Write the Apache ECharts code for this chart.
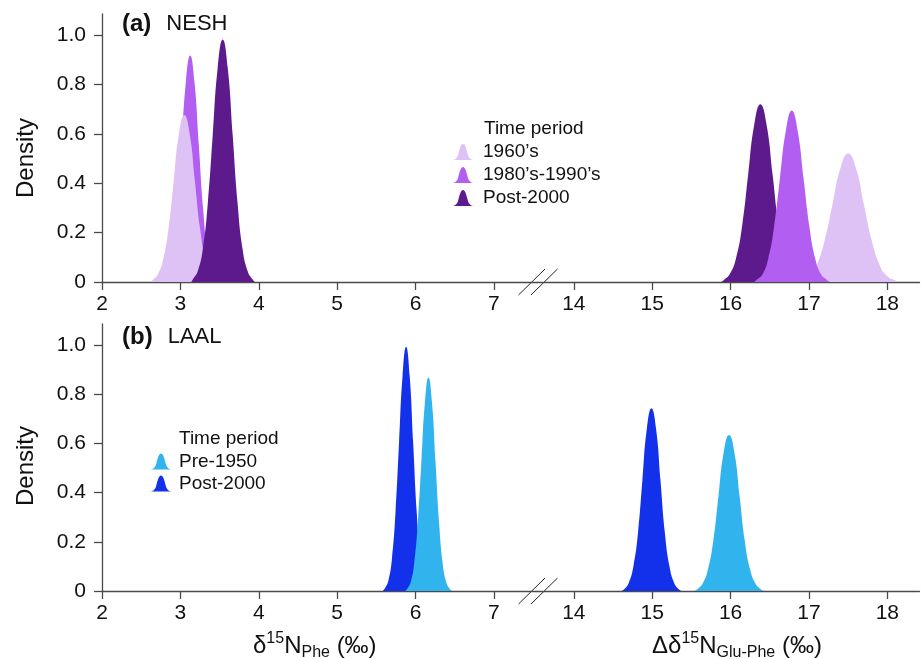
<!DOCTYPE html>
<html>
<head>
<meta charset="utf-8">
<script src="https://cdn.jsdelivr.net/npm/echarts@6/dist/echarts.min.js"></script>
<style>
  html, body { margin: 0; padding: 0; background: #fff; }
  #chart { width: 921px; height: 659px; }
</style>
</head>
<body>
<div id="chart"></div>
<script>
// ticks
const xTicksLeft = [2, 3, 4, 5, 6, 7];
const xTicksRight = [14, 15, 16, 17, 18];
const yTicks = [0, 0.2, 0.4, 0.6, 0.8, 1.0];

// (a) NESH - d15N Phe, densities
const neshPhe1960 = [[2.61,0],[2.645,0.0075],[2.71,0.030],[2.78,0.091],[2.85,0.22],[2.915,0.41],[2.98,0.597],[3.05,0.676],[3.12,0.597],[3.185,0.41],[3.25,0.22],[3.32,0.091],[3.39,0.030],[3.455,0.0075],[3.49,0]];
const neshPhe8090 = [[2.77,0],[2.795,0.010],[2.85,0.040],[2.905,0.124],[2.96,0.298],[3.015,0.556],[3.07,0.809],[3.125,0.917],[3.18,0.809],[3.235,0.556],[3.29,0.298],[3.345,0.124],[3.40,0.040],[3.455,0.010],[3.48,0]];
const neshPhe2000 = [[3.14,0],[3.16,0.011],[3.22,0.043],[3.286,0.133],[3.35,0.319],[3.413,0.596],[3.476,0.867],[3.54,0.982],[3.604,0.867],[3.667,0.596],[3.73,0.319],[3.794,0.133],[3.86,0.043],[3.92,0.011],[3.95,0]];
// (a) NESH - Glu-Phe
const neshGlu2000 = [[15.88,0],[15.915,0.008],[15.99,0.032],[16.07,0.097],[16.15,0.234],[16.225,0.437],[16.30,0.635],[16.38,0.72],[16.46,0.635],[16.535,0.437],[16.61,0.234],[16.69,0.097],[16.77,0.032],[16.845,0.008],[16.88,0]];
const neshGlu8090 = [[16.30,0],[16.33,0.008],[16.405,0.030],[16.48,0.094],[16.555,0.225],[16.63,0.421],[16.705,0.612],[16.78,0.694],[16.855,0.612],[16.93,0.421],[17.005,0.225],[17.08,0.094],[17.155,0.030],[17.23,0.008],[17.26,0]];
const neshGlu1960 = [[16.86,0],[16.90,0.006],[17.0,0.023],[17.10,0.070],[17.20,0.169],[17.30,0.315],[17.40,0.459],[17.50,0.52],[17.60,0.459],[17.70,0.315],[17.80,0.169],[17.90,0.070],[18.0,0.023],[18.10,0.006],[18.14,0]];

// (b) LAAL
const laalPhe2000 = [[5.58,0],[5.61,0.011],[5.655,0.044],[5.70,0.134],[5.745,0.322],[5.79,0.602],[5.835,0.876],[5.88,0.993],[5.925,0.876],[5.97,0.602],[6.015,0.322],[6.06,0.134],[6.105,0.044],[6.15,0.011],[6.18,0]];
const laalPhePre = [[5.865,0],[5.895,0.0096],[5.94,0.038],[5.985,0.117],[6.03,0.282],[6.075,0.526],[6.12,0.766],[6.165,0.868],[6.21,0.766],[6.255,0.526],[6.30,0.282],[6.345,0.117],[6.39,0.038],[6.435,0.0096],[6.47,0]];
const laalGlu2000 = [[14.61,0],[14.645,0.008],[14.70,0.033],[14.76,0.101],[14.82,0.241],[14.875,0.451],[14.93,0.656],[14.99,0.743],[15.05,0.656],[15.105,0.451],[15.16,0.241],[15.22,0.101],[15.28,0.033],[15.335,0.008],[15.37,0]];
const laalGluPre = [[15.54,0],[15.575,0.007],[15.64,0.028],[15.71,0.086],[15.78,0.206],[15.845,0.385],[15.91,0.560],[15.98,0.634],[16.05,0.560],[16.115,0.385],[16.18,0.206],[16.25,0.086],[16.32,0.028],[16.385,0.007],[16.42,0]];

const colores = {
    c1960: '#dec2f5',
    c8090: '#b25ef1',
    c2000a: '#5d1a8d',
    pre: '#31b4ee',
    post: '#1330ea'
};

const FONT = 'Liberation Sans, Arial, sans-serif';
const AX = '#4a4a4a';
const bell = 'path://M0,20 C5,20 7.5,18 9,13 C11,5 12.5,0 15,0 C17.5,0 19,5 21,13 C22.5,18 25,20 30,20 Z';

const chart = echarts.init(document.getElementById('chart'));

function ejeX(idx, min, max, ticks) {
    return {
        type: 'value', gridIndex: idx, min: min, max: max,
        axisLine: { show: true, lineStyle: { color: AX, width: 1.3 } },
        axisTick: { show: true, length: 8, lineStyle: { color: AX, width: 1.3 }, customValues: ticks },
        axisLabel: { customValues: ticks, margin: 12, fontSize: 21, color: '#111', fontFamily: FONT },
        splitLine: { show: false }
    };
}

function ejeY(idx, visible) {
    return {
        type: 'value', gridIndex: idx, min: 0, max: 1.085, show: visible,
        axisLine: { show: true, lineStyle: { color: AX, width: 1.3 } },
        axisTick: { show: true, length: 8, lineStyle: { color: AX, width: 1.3 }, customValues: yTicks },
        axisLabel: {
            customValues: yTicks, margin: 16, fontSize: 21, color: '#111', fontFamily: FONT,
            formatter: v => v === 0 ? '0' : v.toFixed(1)
        },
        splitLine: { show: false }
    };
}

function curva(name, data, color, idx) {
    return {
        name: name, type: 'line', xAxisIndex: idx, yAxisIndex: idx,
        data: data, smooth: 0.5, showSymbol: false, silent: true,
        itemStyle: { color: color },
        lineStyle: { width: 0, color: color },
        areaStyle: { color: color, opacity: 1 }
    };
}

const txt = { fontFamily: FONT, color: '#111', fontWeight: 'normal' };
const sup = Object.assign({ fontSize: 16, verticalAlign: 'top', lineHeight: 15 }, txt);
const sub = Object.assign({ fontSize: 16, verticalAlign: 'bottom', lineHeight: 16 }, txt);
const main = Object.assign({ fontSize: 24, lineHeight: 30 }, txt);
const etiq = {
    b: { fontSize: 24, fontWeight: 'bold', fontFamily: FONT, color: '#111' },
    n: Object.assign({ fontSize: 22, padding: [0, 0, 0, 5] }, txt)
};

// break marks
function corte(y) {
    return [
        { type: 'line', shape: { x1: 518.5, y1: y + 13, x2: 545, y2: y - 13 }, style: { stroke: '#222', lineWidth: 1 } },
        { type: 'line', shape: { x1: 531, y1: y + 13, x2: 557.5, y2: y - 13 }, style: { stroke: '#222', lineWidth: 1 } }
    ];
}

chart.setOption({
    animation: false,
    grid: [
        { left: 102, top: 14, width: 435, height: 268 },
        { left: 537, top: 14, width: 382.5, height: 268 },
        { left: 102, top: 324, width: 435, height: 267 },
        { left: 537, top: 324, width: 382.5, height: 267 }
    ],
    xAxis: [
        ejeX(0, 2, 7.55, xTicksLeft),
        ejeX(1, 13.53, 18.41, xTicksRight),
        ejeX(2, 2, 7.55, xTicksLeft),
        ejeX(3, 13.53, 18.41, xTicksRight)
    ],
    yAxis: [ejeY(0, true), ejeY(1, false), ejeY(2, true), ejeY(3, false)],
    title: [
        { text: '{b|(a)}  {n|NESH}', left: 122, top: 12, padding: 0, textStyle: { rich: etiq } },
        { text: '{b|(b)}  {n|LAAL}', left: 122, top: 325, padding: 0, textStyle: { rich: etiq } },
        { text: 'Time period', left: 484, top: 119, padding: 0,
          textStyle: { fontSize: 19, fontWeight: 'normal', fontFamily: FONT, color: '#111' } },
        { text: 'Time period', left: 179, top: 429, padding: 0,
          textStyle: { fontSize: 19, fontWeight: 'normal', fontFamily: FONT, color: '#111' } },
        { text: '{m|δ}{s|15}{m|N}{u|Phe}{m| (‰)}', left: 253, top: 631, padding: 0,
          textStyle: { rich: { m: main, s: sup, u: sub } } },
        { text: '{m|Δδ}{s|15}{m|N}{u|Glu-Phe}{m| (‰)}', left: 652, top: 631, padding: 0,
          textStyle: { rich: { m: main, s: sup, u: sub } } }
    ],
    legend: [
        {
            left: 451, top: 142.5, orient: 'vertical', padding: 0,
            itemWidth: 24, itemHeight: 20, itemGap: 4, icon: bell, selectedMode: false,
            textStyle: { fontSize: 19, color: '#111', fontFamily: FONT, padding: [0, 0, 0, 3] },
            data: [
                { name: "1960’s", itemStyle: { color: colores.c1960 } },
                { name: "1980’s-1990’s", itemStyle: { color: colores.c8090 } },
                { name: 'Post-2000', itemStyle: { color: colores.c2000a } }
            ]
        },
        {
            left: 149, top: 452, orient: 'vertical', padding: 0,
            itemWidth: 24, itemHeight: 20, itemGap: 3, icon: bell, selectedMode: false,
            textStyle: { fontSize: 19, color: '#111', fontFamily: FONT, padding: [0, 0, 0, 1] },
            data: [
                { name: 'Pre-1950', itemStyle: { color: colores.pre } },
                { name: 'Post-2000', itemStyle: { color: colores.post } }
            ]
        }
    ],
    graphic: [
        { type: 'text', x: 26, y: 158, rotation: Math.PI / 2,
          style: { text: 'Density', align: 'center', verticalAlign: 'middle', fontSize: 24, fontFamily: FONT, fill: '#111' } },
        { type: 'text', x: 26, y: 466, rotation: Math.PI / 2,
          style: { text: 'Density', align: 'center', verticalAlign: 'middle', fontSize: 24, fontFamily: FONT, fill: '#111' } }
    ].concat(corte(282), corte(591)),
    series: [
        curva('Post-2000', neshGlu2000, colores.c2000a, 1),
        curva("1980’s-1990’s", neshPhe8090, colores.c8090, 0),
        curva("1960’s", neshPhe1960, colores.c1960, 0),
        curva('Post-2000', neshPhe2000, colores.c2000a, 0),
        curva("1960’s", neshGlu1960, colores.c1960, 1),
        curva("1980’s-1990’s", neshGlu8090, colores.c8090, 1),
        curva('Post-2000', laalPhe2000, colores.post, 2),
        curva('Pre-1950', laalPhePre, colores.pre, 2),
        curva('Post-2000', laalGlu2000, colores.post, 3),
        curva('Pre-1950', laalGluPre, colores.pre, 3)
    ]
});

window.addEventListener('resize', () => chart.resize());
</script>
</body>
</html>
